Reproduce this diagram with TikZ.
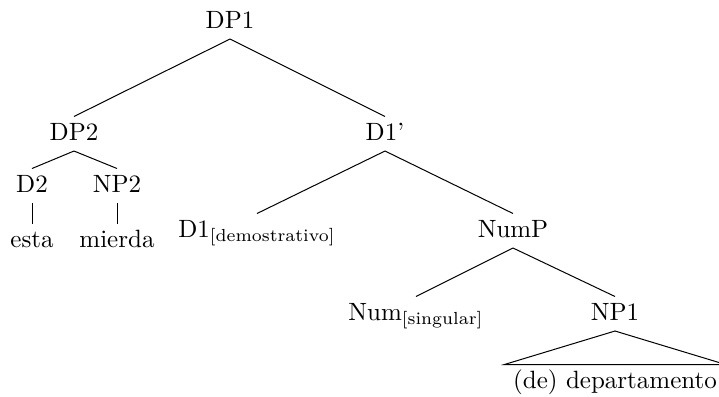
\documentclass[tikz,border=0pt]{standalone}
\usepackage{tikz}
\begin{document}
\begin{tikzpicture}[x=0.4pt,y=-0.4pt,
  lab/.style={anchor=base,text height=6pt,text depth=1pt,inner ysep=3.2pt,inner xsep=3.33pt,font=\fontsize{10}{12}\selectfont},
  edge/.style={line width=0.4pt}]
\useasboundingbox (0,0) rectangle (719,396);
\node[lab] (dp1) at (230,28) {DP1};
\node[lab] (dp2) at (74,140) {DP2};
\node[lab] (d1p) at (385,140) {D1'};
\node[lab] (d2) at (32,192) {D2};
\node[lab] (np2) at (117,192) {NP2};
\node[lab] (esta) at (32,247) {esta};
\node[lab] (mierda) at (117,247) {mierda};
\node[lab] (d1) at (257,237) {D1\textsubscript{[demostrativo]}};
\node[lab] (nump) at (513,237) {NumP};
\node[lab] (num) at (416,320) {Num\textsubscript{[singular]}};
\node[lab] (np1) at (615,320) {NP1};
\node[lab] (leaf) at (615,388) {(de) departamento};
\draw[edge] (dp1.south) -- (dp2.north);
\draw[edge] (dp1.south) -- (d1p.north);
\draw[edge] (dp2.south) -- (d2.north);
\draw[edge] (dp2.south) -- (np2.north);
\draw[edge] (d2.south) -- (esta.north);
\draw[edge] (np2.south) -- (mierda.north);
\draw[edge] (d1p.south) -- (d1.north);
\draw[edge] (d1p.south) -- (nump.north);
\draw[edge] (nump.south) -- (num.north);
\draw[edge] (nump.south) -- (np1.north);
\draw[edge] (leaf.north west) -- (np1.south) -- (leaf.north east) -- cycle;
\end{tikzpicture}
\end{document}
